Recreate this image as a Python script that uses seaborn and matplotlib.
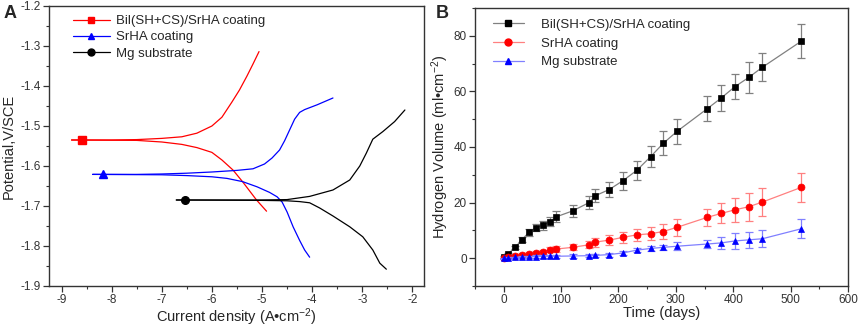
import numpy as np
import pandas as pd
import matplotlib
matplotlib.use("Agg")
import matplotlib.pyplot as plt
from matplotlib.lines import Line2D
from matplotlib.ticker import MultipleLocator
import seaborn as sns

# ---- Panel A: Tafel curves (log current density, potential V/SCE) ----
bil_anodic_x = [-8.80, -8.0, -7.5, -7.0, -6.6, -6.3, -6.0, -5.8, -5.6, -5.45, -5.3, -5.18, -5.06]
bil_anodic_y = [-1.535, -1.535, -1.534, -1.531, -1.527, -1.518, -1.500, -1.478, -1.44, -1.41, -1.375, -1.345, -1.314]
bil_cathodic_x = [-8.80, -7.5, -7.0, -6.6, -6.3, -6.0, -5.8, -5.58, -5.39, -5.11, -4.91]
bil_cathodic_y = [-1.535, -1.536, -1.540, -1.546, -1.554, -1.566, -1.585, -1.61, -1.639, -1.685, -1.713]
bil_ecorr = (-8.59, -1.535)

srha_anodic_x = [-8.38, -7.5, -7.0, -6.5, -6.0, -5.5, -5.18, -4.95, -4.8, -4.65, -4.55, -4.45, -4.35, -4.25, -4.15, -3.9, -3.585]
srha_anodic_y = [-1.621, -1.621, -1.620, -1.618, -1.615, -1.611, -1.607, -1.595, -1.58, -1.56, -1.537, -1.51, -1.483, -1.466, -1.459, -1.447, -1.43]
srha_cathodic_x = [-8.38, -7.0, -6.5, -6.0, -5.7, -5.39, -5.1, -4.85, -4.7, -4.6, -4.5, -4.38, -4.25, -4.15, -4.05]
srha_cathodic_y = [-1.621, -1.622, -1.624, -1.627, -1.631, -1.639, -1.652, -1.666, -1.677, -1.69, -1.715, -1.752, -1.786, -1.81, -1.828]
srha_ecorr = (-8.18, -1.621)

mg_anodic_x = [-6.71, -5.5, -5.0, -4.5, -4.05, -3.585, -3.25, -3.05, -2.92, -2.79, -2.59, -2.355, -2.15]
mg_anodic_y = [-1.685, -1.685, -1.685, -1.684, -1.676, -1.66, -1.635, -1.60, -1.568, -1.533, -1.514, -1.489, -1.46]
mg_cathodic_x = [-6.71, -5.0, -4.5, -4.25, -4.05, -3.85, -3.585, -3.25, -2.99, -2.79, -2.65, -2.52]
mg_cathodic_y = [-1.685, -1.686, -1.687, -1.689, -1.692, -1.705, -1.725, -1.752, -1.777, -1.81, -1.843, -1.858]
mg_ecorr = (-6.545, -1.685)

# ---- Panel B: hydrogen evolution ----
days = [0, 7, 20, 32, 44, 56, 68, 80, 92, 120, 148, 160, 184, 208, 232, 256, 278, 302, 355, 379, 403, 427, 451, 519]
h2_bil = [0.5, 1.4, 3.9, 6.7, 9.3, 11.0, 11.9, 13.1, 14.9, 17.0, 19.9, 22.5, 24.7, 27.9, 31.6, 36.5, 41.3, 45.6, 53.8, 57.6, 61.7, 65.0, 68.7, 78.1]
h2_bil_err = [0.3, 0.5, 0.6, 1.0, 1.3, 1.3, 1.6, 1.7, 2.0, 2.2, 2.3, 2.3, 2.8, 3.2, 3.4, 3.8, 4.3, 4.5, 4.4, 4.8, 4.5, 5.6, 5.0, 6.2]
h2_srha = [0.0, 0.4, 0.9, 1.2, 1.6, 1.9, 2.3, 3.0, 3.3, 3.9, 4.8, 5.8, 6.5, 7.5, 8.4, 8.8, 9.6, 11.1, 14.7, 16.1, 17.4, 18.5, 20.2, 25.5]
h2_srha_err = [0.2, 0.3, 0.5, 0.6, 0.6, 0.7, 0.8, 0.9, 1.0, 1.1, 1.3, 1.6, 1.8, 2.1, 2.2, 2.3, 2.6, 3.1, 3.1, 3.6, 4.3, 5.0, 5.0, 5.2]
h2_mg = [0.0, 0.1, 0.3, 0.4, 0.5, 0.6, 0.7, 0.7, 0.7, 0.8, 0.9, 1.0, 1.3, 1.9, 2.9, 3.5, 3.9, 4.3, 5.1, 5.5, 6.2, 6.6, 7.0, 10.6]
h2_mg_err = [0.2, 0.3, 0.3, 0.4, 0.4, 0.5, 0.5, 0.5, 0.5, 0.6, 0.6, 0.6, 0.7, 0.8, 0.8, 1.0, 1.0, 1.4, 1.5, 2.3, 3.0, 3.0, 3.1, 3.4]

labels = ["Bil(SH+CS)/SrHA coating", "SrHA coating", "Mg substrate"]

sns.set_style("ticks")
plt.rcParams["font.family"] = ["Liberation Sans", "DejaVu Sans"]
plt.rcParams["mathtext.fontset"] = "custom"
plt.rcParams["mathtext.rm"] = "Liberation Sans"
plt.rcParams["mathtext.it"] = "Liberation Sans:italic"
plt.rcParams["axes.unicode_minus"] = False
plt.rcParams["axes.edgecolor"] = "#333333"
plt.rcParams["axes.linewidth"] = 1.0

fig = plt.figure(figsize=(8.58, 3.27), dpi=100)
axA = fig.add_axes([0.0571, 0.1254, 0.4370, 0.8563])
axB = fig.add_axes([0.5536, 0.1254, 0.4347, 0.8502])

# panel A
curvesA = [
    (bil_anodic_x, bil_anodic_y, bil_cathodic_x, bil_cathodic_y, bil_ecorr, "red", "s"),
    (srha_anodic_x, srha_anodic_y, srha_cathodic_x, srha_cathodic_y, srha_ecorr, "blue", "^"),
    (mg_anodic_x, mg_anodic_y, mg_cathodic_x, mg_cathodic_y, mg_ecorr, "black", "o"),
]
handlesA = []
for ax_, ay_, cx_, cy_, ec, col, mk in curvesA:
    sns.lineplot(x=ax_, y=ay_, sort=False, color=col, lw=0.9, ax=axA)
    sns.lineplot(x=cx_, y=cy_, sort=False, color=col, lw=0.9, ax=axA)
    axA.plot([ec[0]], [ec[1]], marker=mk, color=col, ms=5.5, ls="none")
    handlesA.append(Line2D([], [], color=col, lw=0.9, marker=mk, ms=5))

axA.set_xlim(-9.25, -1.77)
axA.set_ylim(-1.9, -1.2)
axA.xaxis.set_major_locator(MultipleLocator(1))
axA.xaxis.set_minor_locator(MultipleLocator(0.5))
axA.yaxis.set_minor_locator(MultipleLocator(0.05))
yt = np.round(np.arange(-1.9, -1.15, 0.1), 1)
axA.set_yticks(yt)
axA.set_yticklabels([f"{v:.1f}" for v in yt])
axA.set_xlabel(r"Current density (A•cm$^{-2}$)", fontsize=10.5, labelpad=0)
axA.set_ylabel("Potential,V/SCE", fontsize=10.5, labelpad=3)
axA.legend(handlesA, labels, loc="upper left", bbox_to_anchor=(0.064, 0.968),
           frameon=False, fontsize=9.5, handlelength=2.8, handletextpad=0.45,
           labelspacing=0.3, borderpad=0, borderaxespad=0)

# panel B
seriesB = [
    (h2_bil, h2_bil_err, "#808080", "black", "s", 4.2),
    (h2_srha, h2_srha_err, "#ff8080", "red", "o", 5),
    (h2_mg, h2_mg_err, "#8080ff", "blue", "^", 5),
]
handlesB = []
for vals, errs, lc, mc, mk, ms in seriesB:
    axB.errorbar(days, vals, yerr=errs, fmt="none", ecolor=lc, elinewidth=0.9,
                 capsize=3, capthick=0.9)
    sns.lineplot(x=days, y=vals, color=lc, lw=0.9, marker=mk, ms=ms,
                 markerfacecolor=mc, markeredgecolor=mc, markeredgewidth=0.5, ax=axB)
    handlesB.append(Line2D([], [], color=lc, lw=0.9, marker=mk, ms=ms,
                           markerfacecolor=mc, markeredgecolor=mc))

axB.set_xlim(-50, 600)
axB.set_ylim(-10, 90)
axB.xaxis.set_major_locator(MultipleLocator(100))
axB.xaxis.set_minor_locator(MultipleLocator(50))
axB.set_yticks([0, 20, 40, 60, 80])
axB.yaxis.set_minor_locator(MultipleLocator(10))
axB.set_xlabel("Time (days)", fontsize=10.5, labelpad=0)
axB.set_ylabel(r"Hydrogen Volume (ml•cm$^{-2}$)", fontsize=10.5, labelpad=2)
axB.legend(handlesB, labels, loc="upper left", bbox_to_anchor=(0.047, 0.962),
           frameon=False, fontsize=9.5, handlelength=2.4, handletextpad=1.3,
           labelspacing=0.5, borderpad=0, borderaxespad=0)

for ax in (axA, axB):
    ax.tick_params(which="major", direction="out", length=4, width=0.9,
                   labelsize=8.5, colors="#333333", labelcolor="#333333", pad=2)
    ax.tick_params(which="minor", direction="out", length=2.5, width=0.8, colors="#333333")
    for s in ax.spines.values():
        s.set_visible(True)

fig.text(0.004, 0.985, "A", fontsize=13, fontweight="bold", va="top", ha="left")
fig.text(0.508, 0.985, "B", fontsize=13, fontweight="bold", va="top", ha="left")

fig.savefig("out.png", dpi=100)
